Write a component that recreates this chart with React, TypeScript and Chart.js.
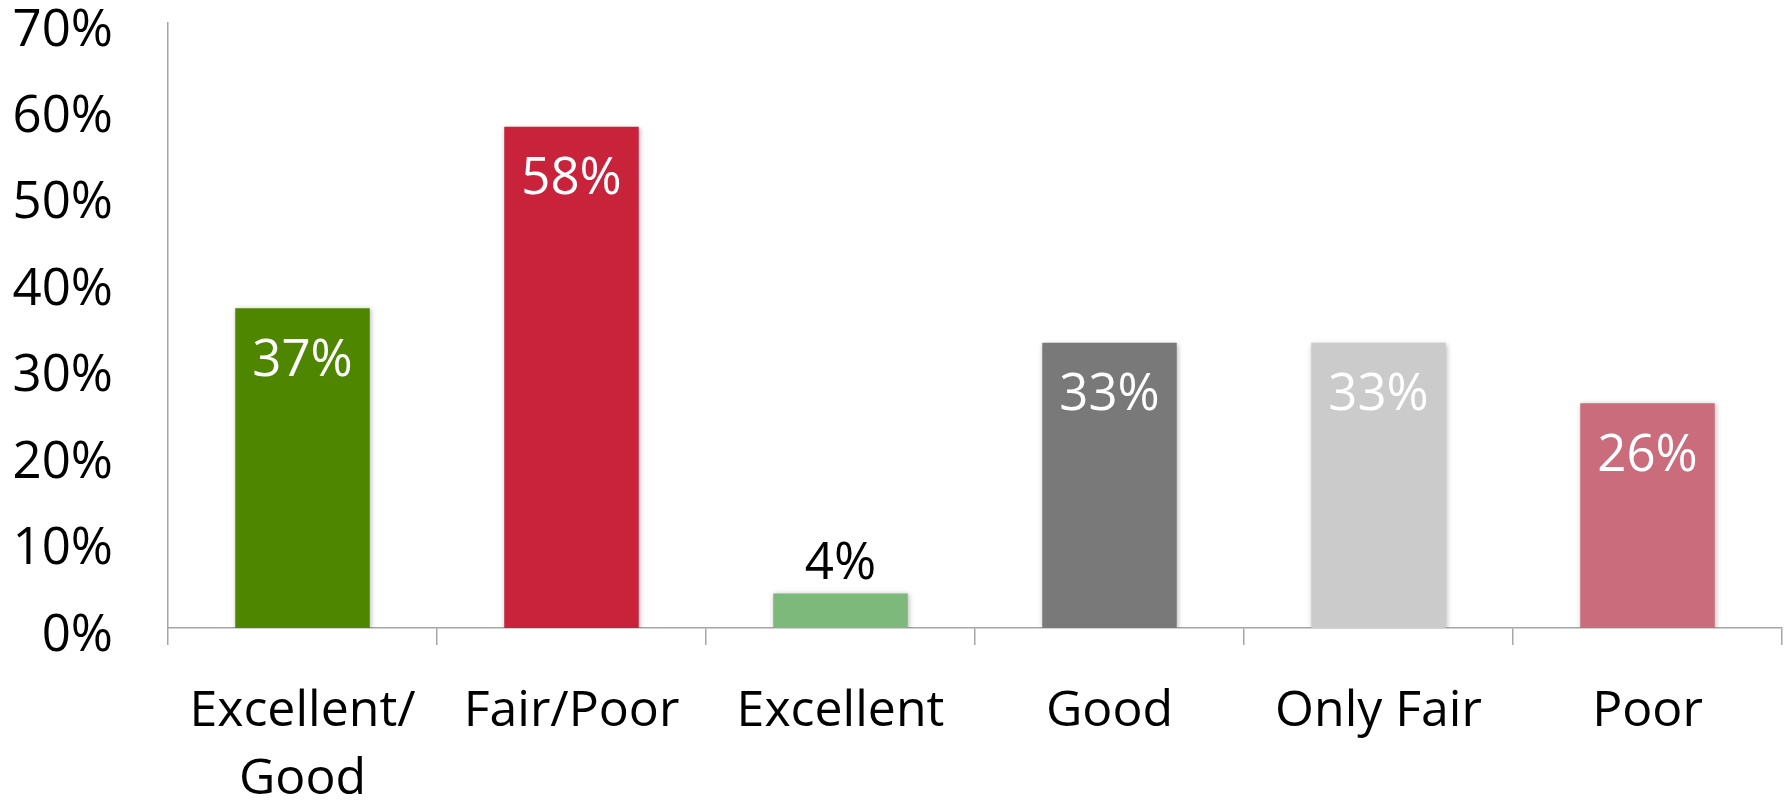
import React, { useEffect, useRef } from "react";
import { Chart, registerables } from "chart.js";

Chart.register(...registerables);

const categories: (string | string[])[] = [
  ["Excellent/", "Good"],
  "Fair/Poor",
  "Excellent",
  "Good",
  "Only Fair",
  "Poor",
];
const values: number[] = [37, 58, 4, 33, 33, 26];
const barColors: string[] = ["#4E8600", "#C9223B", "#7CB97B", "#797979", "#CBCBCB", "#CA6C7B"];
const labelInside: boolean[] = [true, true, false, true, true, true];
const yTicks: number[] = [0, 10, 20, 30, 40, 50, 60, 70];

const FONT = "'Open Sans', 'DejaVu Sans', sans-serif";

const shadowPlugin = {
  id: "barShadow",
  beforeDatasetsDraw(chart: any) {
    const ctx = chart.ctx;
    ctx.save();
    ctx.shadowColor = "rgba(0,0,0,0.28)";
    ctx.shadowBlur = 5;
    ctx.shadowOffsetX = 1;
    ctx.shadowOffsetY = 1;
  },
  afterDatasetsDraw(chart: any) {
    chart.ctx.restore();
  },
};

const valueLabelPlugin = {
  id: "valueLabels",
  afterDatasetsDraw(chart: any) {
    const ctx = chart.ctx;
    const meta = chart.getDatasetMeta(0);
    ctx.save();
    ctx.font = `51px ${FONT}`;
    ctx.textAlign = "center";
    ctx.textBaseline = "middle";
    meta.data.forEach((bar: any, i: number) => {
      const inside = labelInside[i];
      ctx.fillStyle = inside ? "#FFFFFF" : "#000000";
      const y = inside ? bar.y + 53 : bar.y - 29;
      ctx.fillText(`${values[i]}%`, bar.x, y);
    });
    ctx.restore();
  },
};

export default function App() {
  const canvasRef = useRef<HTMLCanvasElement>(null);

  useEffect(() => {
    if (!canvasRef.current) return;
    const chart = new Chart(canvasRef.current, {
      type: "bar",
      data: {
        labels: categories,
        datasets: [
          {
            data: values,
            backgroundColor: barColors,
            borderWidth: 0,
            categoryPercentage: 1,
            barPercentage: 0.5,
          },
        ],
      },
      options: {
        animation: false,
        responsive: true,
        maintainAspectRatio: false,
        layout: { padding: { top: 23, right: 9, left: 0, bottom: 0 } },
        plugins: {
          legend: { display: false },
          tooltip: { enabled: false },
        },
        scales: {
          x: {
            grid: {
              display: true,
              drawOnChartArea: false,
              drawTicks: true,
              tickLength: 17,
              offset: true,
              color: "#A6A6A6",
              lineWidth: 1.5,
            },
            border: { display: true, color: "#A6A6A6", width: 1.5 },
            ticks: {
              color: "#000000",
              font: { family: FONT, size: 50, lineHeight: 1.37 },
              padding: 32,
              maxRotation: 0,
              autoSkip: false,
            },
            afterFit(scale: any) {
              scale.height = 172;
            },
          },
          y: {
            min: 0,
            max: 70,
            afterBuildTicks(scale: any) {
              scale.ticks = yTicks.map((v) => ({ value: v }));
            },
            grid: { display: false, drawTicks: false },
            border: { display: true, color: "#A6A6A6", width: 1.5 },
            ticks: {
              color: "#000000",
              font: { family: FONT, size: 51 },
              padding: 55,
              labelOffset: 8,
              callback: (v: any) => `${v}%`,
            },
            afterFit(scale: any) {
              scale.width = 168;
              scale.paddingTop = 0;
              scale.paddingBottom = 0;
            },
          },
        },
      },
      plugins: [shadowPlugin, valueLabelPlugin],
    });
    return () => chart.destroy();
  }, []);

  return (
    <div style={{ position: "fixed", left: 0, top: 0, width: 1791, height: 800, background: "#fff" }}>
      <canvas ref={canvasRef} />
    </div>
  );
}
